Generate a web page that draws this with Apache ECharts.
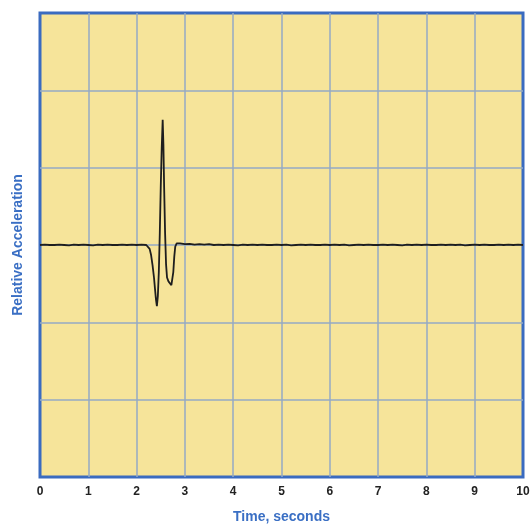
<!DOCTYPE html>
<html>
<head>
<meta charset="utf-8">
<script src="https://cdn.jsdelivr.net/npm/echarts@6/dist/echarts.min.js"></script>
<style>html,body{margin:0;padding:0;background:#fff;}#c{width:530px;height:526px;}</style>
</head>
<body>
<div id="c"></div>
<script>
// Time (s) and relative acceleration
var times = [
  0.0,0.1,0.2,0.3,0.4,0.5,0.6,0.7,0.8,0.9,1.0,1.1,1.2,1.3,1.4,1.5,1.6,1.7,1.8,1.9,
  2.0,2.1,2.2,2.24,2.27,2.30,2.33,2.36,2.38,2.40,2.42,2.44,2.46,2.48,2.50,2.52,2.54,2.555,
  2.57,2.59,2.61,2.63,2.66,2.69,2.72,2.74,2.76,2.78,2.80,2.83,2.86,2.9,3.0,3.1,3.2,3.3,3.4,3.5,
  3.6,3.7,3.8,3.9,4.0,4.1,4.2,4.3,4.4,4.5,4.6,4.7,4.8,4.9,5.0,5.1,5.2,5.3,5.4,5.5,5.6,5.7,5.8,5.9,
  6.0,6.1,6.2,6.3,6.4,6.5,6.6,6.7,6.8,6.9,7.0,7.1,7.2,7.3,7.4,7.5,7.6,7.7,7.8,7.9,8.0,8.1,8.2,8.3,
  8.4,8.5,8.6,8.7,8.8,8.9,9.0,9.1,9.2,9.3,9.4,9.5,9.6,9.7,9.8,9.9,10.0
];
var accel = [
  0.0,0.005,0.0,0.0,0.005,0.0,-0.005,0.005,0.0,0.005,0.0,-0.005,0.005,0.0,0.005,0.0,0.0,0.005,0.0,0.005,
  0.0,0.005,0.0,-0.01,-0.05,-0.13,-0.26,-0.42,-0.56,-0.70,-0.79,-0.66,-0.35,0.15,0.75,1.25,1.62,1.30,
  0.75,0.15,-0.25,-0.42,-0.47,-0.48,-0.52,-0.50,-0.35,-0.15,-0.02,0.02,0.025,0.02,0.01,0.015,0.005,0.01,0.005,0.01,
  0.0,0.005,0.0,0.005,0.0,-0.005,0.005,0.0,0.005,0.0,0.005,0.0,0.0,0.005,0.0,0.005,-0.005,0.0,0.005,0.0,0.005,0.0,0.0,0.005,
  0.0,0.005,0.0,0.005,-0.005,0.0,0.005,0.0,0.005,0.0,0.0,0.005,0.0,0.005,0.0,-0.005,0.005,0.0,0.005,0.0,0.005,0.0,0.0,0.005,
  0.0,0.005,0.0,0.005,-0.005,0.0,0.005,0.0,0.005,0.0,0.0,0.005,0.0,0.005,0.0,0.005,0.0
];
var xTicks = ['0','1','2','3','4','5','6','7','8','9','10'];

var data = times.map(function(t,i){return [t, accel[i]];});
var chart = echarts.init(document.getElementById('c'));
var font = 'Liberation Sans, Arial, sans-serif';
chart.setOption({
  animation:false,
  backgroundColor:'#ffffff',
  grid:{left:40,right:7,top:13,bottom:49,containLabel:false,outerBoundsMode:'none',show:true,backgroundColor:'#f6e49a',borderColor:'#3a6bc0',borderWidth:3,z:0},
  xAxis:{type:'value',min:0,max:10,interval:1,
    name:'Time, seconds',nameLocation:'middle',nameGap:33,
    nameTextStyle:{color:'#3a6fc4',fontWeight:'bold',fontSize:14,fontFamily:font},
    axisLine:{show:false},axisTick:{show:false},
    axisLabel:{margin:9,color:'#222',fontWeight:'bold',fontSize:12,fontFamily:font,
      formatter:function(v){return xTicks[Math.round(v)];}},
    splitLine:{show:true,showMinLine:false,showMaxLine:false,lineStyle:{color:'#94aac4',width:1.5}}
  },
  yAxis:{type:'value',min:-3,max:3,interval:1,
    name:'Relative Acceleration',nameLocation:'middle',nameGap:15,
    nameTextStyle:{color:'#3a6fc4',fontWeight:'bold',fontSize:14,fontFamily:font},
    axisLine:{show:false},axisTick:{show:false},axisLabel:{show:false},
    splitLine:{show:true,showMinLine:false,showMaxLine:false,lineStyle:{color:'#94aac4',width:1.5}}
  },
  series:[{type:'line',data:data,showSymbol:false,smooth:false,
    lineStyle:{color:'#1e1e1e',width:1.8}}]
});
</script>
</body>
</html>
